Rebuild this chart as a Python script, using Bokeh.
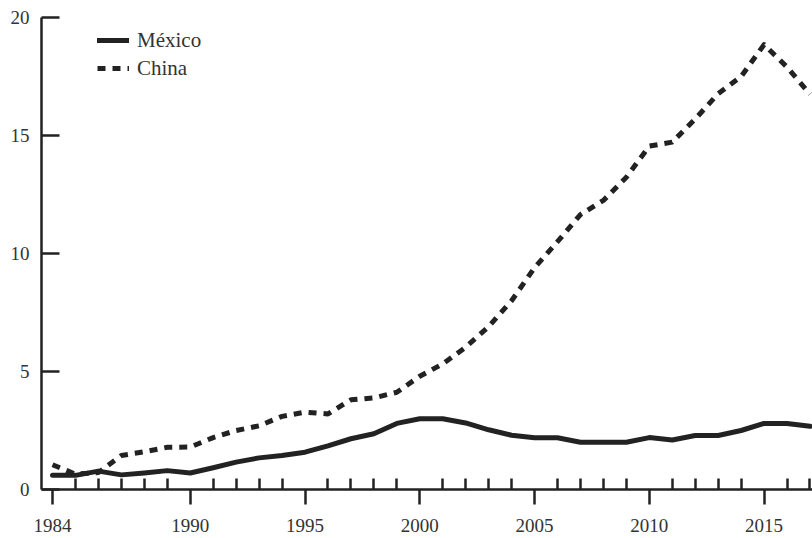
from bokeh.plotting import figure
from bokeh.models import FixedTicker, Range1d, Legend, LegendItem
from bokeh.embed import file_html
from bokeh.resources import INLINE

years = list(range(1984, 2018))
mexico = [0.6, 0.6, 0.78, 0.62, 0.7, 0.8, 0.7, 0.92, 1.16, 1.34, 1.44, 1.58,
          1.85, 2.15, 2.36, 2.8, 3.0, 3.0, 2.82, 2.53, 2.3, 2.19, 2.19, 2.0,
          2.0, 2.0, 2.2, 2.1, 2.29, 2.29, 2.5, 2.8, 2.8, 2.68]
china = [1.05, 0.65, 0.72, 1.44, 1.6, 1.79, 1.8, 2.2, 2.5, 2.7, 3.1, 3.28,
         3.2, 3.8, 3.88, 4.12, 4.8, 5.32, 6.03, 6.9, 8.0, 9.4, 10.5, 11.65,
         12.25, 13.23, 14.55, 14.72, 15.7, 16.77, 17.5, 18.85, 17.9, 16.75]
x_major = [1984, 1990, 1995, 2000, 2005, 2010, 2015]
x_minor = [y for y in years if y not in x_major]
y_major = [0, 5, 10, 15, 20]

FONT = "Liberation Serif"
INK = "#222222"
TXT = "#333333"

p = figure(width=812, height=538, output_backend="svg", toolbar_location=None,
           x_range=Range1d(1983.52, 2017.11), y_range=Range1d(0, 20),
           min_border_left=41, min_border_right=0, min_border_top=17,
           min_border_bottom=49)
p.outline_line_color = None
p.xgrid.visible = False
p.ygrid.visible = False
p.background_fill_color = "white"

r_mx = p.line(years, mexico, line_color=INK, line_width=5,
              line_join="round", line_cap="round")
r_cn = p.line(years, china, line_color=INK, line_width=5,
              line_dash="8 7", line_join="round", line_cap="butt")

xa = p.xaxis[0]
xa.ticker = FixedTicker(ticks=x_major, minor_ticks=x_minor)
xa.axis_line_width = 2.5
xa.axis_line_color = INK
xa.major_tick_line_width = 2.5
xa.major_tick_line_color = INK
xa.minor_tick_line_width = 2.5
xa.minor_tick_line_color = INK
xa.major_tick_in = 0
xa.major_tick_out = 15
xa.minor_tick_in = 11
xa.minor_tick_out = 0
xa.major_label_text_font = FONT
xa.major_label_text_font_size = "19px"
xa.major_label_text_color = TXT
xa.major_label_standoff = 14

ya = p.yaxis[0]
ya.ticker = FixedTicker(ticks=y_major, minor_ticks=[])
ya.axis_line_width = 2.5
ya.axis_line_color = INK
ya.major_tick_line_width = 2.5
ya.major_tick_line_color = INK
ya.major_tick_in = 18
ya.major_tick_out = 0
ya.minor_tick_line_color = None
ya.major_label_text_font = FONT
ya.major_label_text_font_size = "19px"
ya.major_label_text_color = TXT
ya.major_label_standoff = 12

legend = Legend(items=[LegendItem(label="México", renderers=[r_mx]),
                       LegendItem(label="China", renderers=[r_cn])],
                location=(56, 407), border_line_color=None,
                background_fill_alpha=0, padding=0, margin=0, spacing=0,
                glyph_width=32, glyph_height=28, label_height=28,
                label_standoff=8, label_text_font=FONT,
                label_text_font_size="21px", label_text_color=TXT)
p.add_layout(legend, "center")

open("out.html", "w").write(file_html(p, INLINE))
